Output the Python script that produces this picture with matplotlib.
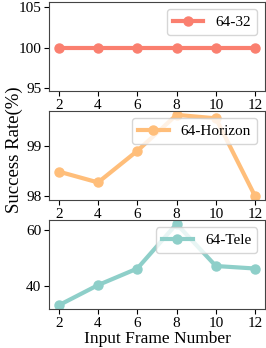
import matplotlib
matplotlib.use("Agg")
import matplotlib.pyplot as plt

frames = [2, 4, 6, 8, 10, 12]
s_64_32 = [100, 100, 100, 100, 100, 100]
s_64_horizon = [98.49, 98.27, 98.91, 99.64, 99.57, 97.99]
s_64_tele = [33.1, 40.3, 46.2, 62.1, 47.1, 46.2]

labels = ["64-32", "64-Horizon", "64-Tele"]
colors = ["#FA7F6F", "#FFBE7A", "#8ECFC9"]
series = [s_64_32, s_64_horizon, s_64_tele]
yticks = [[95, 100, 105], [98, 99], [40, 60]]

plt.rcParams['font.family'] = ['Liberation Serif', 'DejaVu Serif']
plt.rcParams['font.size'] = 11

fig, axes = plt.subplots(3, 1, figsize=(2.66, 3.48), dpi=100)
fig.subplots_adjust(left=0.184, right=0.996, top=0.995, bottom=0.111, hspace=0.218)

for ax, y, c, lab, yt in zip(axes, series, colors, labels, yticks):
    ax.plot(frames, y, color=c, lw=3, marker='o', ms=6.5, label=lab)
    ax.set_xticks(frames)
    ax.set_yticks(yt)
    ax.tick_params(labelsize=11, length=3.5, pad=2)
    ax.legend(loc='upper right', fontsize=11)
    for sp in ax.spines.values():
        sp.set_color('#444444')

axes[0].set_ylim(94.65, 105.65)
axes[2].set_xlabel("Input Frame Number", fontsize=12.5, labelpad=0.5)
fig.text(0.055, 0.569, "Success Rate(%)", rotation=90, va='center', ha='center', fontsize=13.5)

fig.savefig("out.png", dpi=100)
